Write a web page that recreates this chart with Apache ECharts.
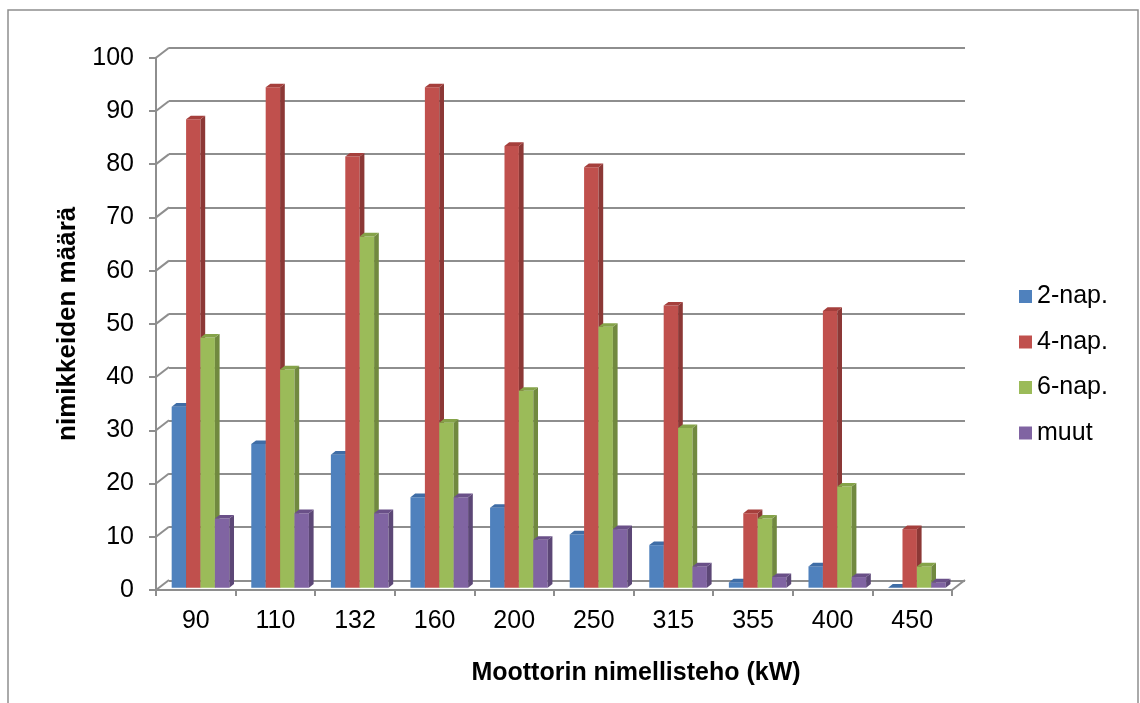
<!DOCTYPE html>
<html>
<head>
<meta charset="utf-8">
<script src="https://cdn.jsdelivr.net/npm/echarts@6/dist/echarts.min.js"></script>
<style>
html,body{margin:0;padding:0;background:#fff;}
#chart{width:1140px;height:703px;}
</style>
</head>
<body>
<div id="chart"></div>
<script>
const categories = ['90','110','132','160','200','250','315','355','400','450'];
const seriesNames = ['2-nap.','4-nap.','6-nap.','muut'];
const nap2 = [34,27,25,17,15,10,8,1,4,0];
const nap4 = [88,94,81,94,83,79,53,14,52,11];
const nap6 = [47,41,66,31,37,49,30,13,19,4];
const muut = [13,14,14,17,9,11,4,2,2,1];
const yTicks = [0,10,20,30,40,50,60,70,80,90,100];

const faceColors = ['#4F81BD','#C0504D','#9BBB59','#8064A2'];
const sideColors = ['#385D8A','#8C3836','#71893F','#5C4776'];
const topColors  = ['#3F6DA6','#A53F3C','#85A349','#6A5088'];
const seriesValues = [nap2, nap4, nap6, muut];

const DX = 4.7, DY = -3.6, LIFT = 2.3;

function barSeries(s) {
  return {
    type: 'custom',
    name: seriesNames[s],
    xAxisIndex: 0, yAxisIndex: 0,
    itemStyle: {color: faceColors[s]},
    emphasis: {disabled: true},
    z: 3,
    data: seriesValues[s].map((v, i) => [i, v]),
    encode: {x: 0, y: 1},
    renderItem: function (params, api) {
      const cs = params.coordSys;
      const i = api.value(0), v = api.value(1);
      const catW = cs.width / categories.length;
      const w = catW * 0.181;
      const x0 = cs.x + i * catW + catW * 0.197 + s * w;
      const yb = api.coord([i, 0])[1] - LIFT;
      const yt = api.coord([i, v])[1] - LIFT;
      return {
        type: 'group',
        children: [
          {type: 'rect', shape: {x: x0, y: yt, width: w, height: yb - yt}, style: {fill: faceColors[s]}},
          {type: 'polygon', shape: {points: [[x0 + w, yt], [x0 + w + DX, yt + DY], [x0 + w + DX, yb + DY], [x0 + w, yb]]}, style: {fill: sideColors[s]}},
          {type: 'polygon', shape: {points: [[x0, yt], [x0 + DX, yt + DY], [x0 + w + DX, yt + DY], [x0 + w, yt]]}, style: {fill: topColors[s]}}
        ]
      };
    }
  };
}

const frameSeries = {
  type: 'custom',
  name: 'frame',
  xAxisIndex: 0, yAxisIndex: 0,
  silent: true,
  z: 1,
  data: yTicks.map(v => [0, v]),
  encode: {x: 0, y: 1},
  renderItem: function (params, api) {
    const cs = params.coordSys;
    const v = api.value(1);
    const y = api.coord([0, v])[1];
    const lineStyle = {stroke: '#8E8E8E', lineWidth: 2};
    const children = [
      {type: 'line', shape: {x1: cs.x, y1: y, x2: cs.x + 13, y2: y - 10}, style: lineStyle}
    ];
    if (v === 0) {
      children.push({type: 'line', shape: {x1: cs.x + cs.width, y1: y, x2: cs.x + cs.width + 13, y2: y - 10}, style: lineStyle});
    }
    return {type: 'group', children: children};
  }
};

const chart = echarts.init(document.getElementById('chart'), null, {renderer: 'canvas'});
const FONT = 'Liberation Sans, Arial, sans-serif';

chart.setOption({
  animation: false,
  backgroundColor: '#ffffff',
  textStyle: {fontFamily: FONT},
  graphic: [
    {type: 'rect', shape: {x: 8, y: 10, width: 1130, height: 720}, style: {fill: 'none', stroke: '#8E8E8E', lineWidth: 1.5}, z: -10}
  ],
  grid: [
    {left: 156, top: 57.7, right: 188, bottom: 113},
    {left: 169, top: 47.5, right: 175, bottom: 122.5}
  ],
  legend: {
    data: seriesNames,
    orient: 'vertical',
    left: 1014, top: 279,
    icon: 'rect',
    itemWidth: 13, itemHeight: 13,
    itemGap: 20.5,
    textStyle: {fontSize: 25, color: '#000', fontFamily: FONT}
  },
  xAxis: [
    {
      type: 'category', gridIndex: 0, data: categories,
      axisLine: {show: true, lineStyle: {color: '#8E8E8E', width: 2}},
      axisTick: {show: true, length: 6, lineStyle: {color: '#8E8E8E', width: 2}},
      axisLabel: {fontSize: 25, color: '#000', margin: 19, fontFamily: FONT},
      name: 'Moottorin nimellisteho (kW)',
      nameLocation: 'middle', nameGap: 71,
      nameTextStyle: {fontSize: 25, fontWeight: 'bold', color: '#000', fontFamily: FONT, padding: [0, 0, 0, 164]},
      splitLine: {show: false}
    },
    {
      type: 'category', gridIndex: 1, data: categories, show: false
    }
  ],
  yAxis: [
    {
      type: 'value', gridIndex: 0, min: 0, max: 100, interval: 10,
      axisLine: {show: true, lineStyle: {color: '#8E8E8E', width: 2}},
      axisTick: {show: true, length: 7, lineStyle: {color: '#8E8E8E', width: 2}},
      axisLabel: {fontSize: 25, color: '#000', margin: 22, fontFamily: FONT},
      splitLine: {show: false},
      name: 'nimikkeiden määrä',
      nameLocation: 'middle', nameRotate: 90, nameGap: 75,
      nameTextStyle: {fontSize: 26, fontWeight: 'bold', color: '#000', fontFamily: FONT}
    },
    {
      type: 'value', gridIndex: 1, min: 0, max: 100, interval: 10,
      axisLine: {show: false}, axisTick: {show: false}, axisLabel: {show: false},
      splitLine: {show: true, lineStyle: {color: '#8E8E8E', width: 2}}
    }
  ],
  series: [frameSeries, barSeries(0), barSeries(1), barSeries(2), barSeries(3)]
});
</script>
</body>
</html>
